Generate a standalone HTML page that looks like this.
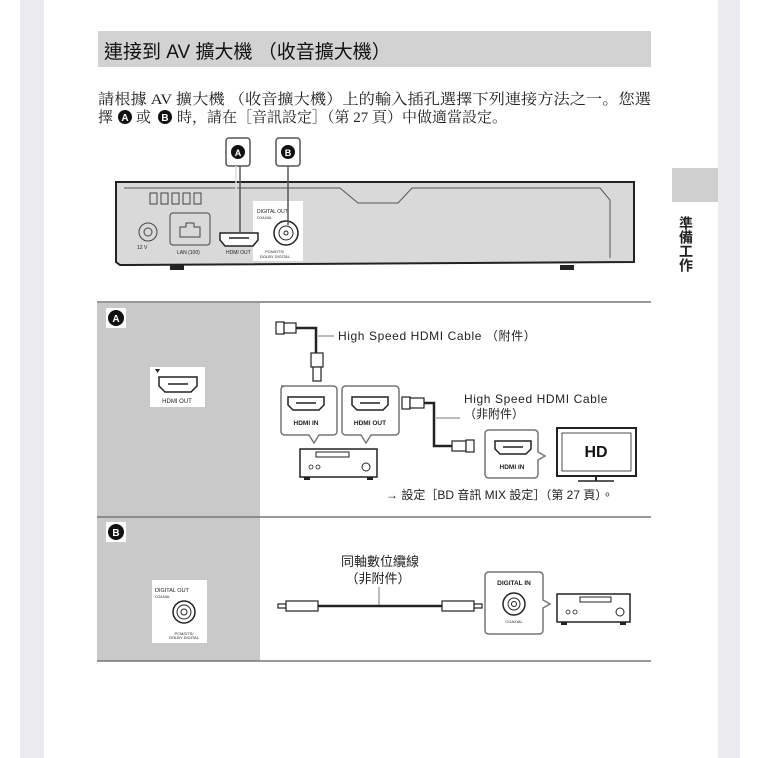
<!DOCTYPE html>
<html><head><meta charset="utf-8"><style>
html,body{margin:0;padding:0;background:#fff;}
svg{display:block}
.t{font-family:"Liberation Sans","Noto Sans CJK TC",sans-serif;}
.s{font-family:"Liberation Serif","Noto Serif CJK SC",serif;}
</style></head><body>
<svg width="758" height="758" viewBox="0 0 758 758" xmlns="http://www.w3.org/2000/svg">
<rect width="758" height="758" fill="#fff"/>
<rect x="20" y="0" width="24" height="758" fill="#ececf0"/>
<rect x="718" y="0" width="22" height="758" fill="#ececf0"/>
<!-- title -->
<rect x="98" y="31" width="553" height="36" fill="#d2d2d2"/>
<text x="104" y="58" class="t" font-size="19" fill="#111">連接到 AV 擴大機 （收音擴大機）</text>
<text x="98" y="104" class="s" font-size="15" fill="#222" textLength="553" lengthAdjust="spacingAndGlyphs">請根據 AV 擴大機 （收音擴大機）上的輸入插孔選擇下列連接方法之一。您選</text>
<text x="98" y="122" class="s" font-size="15" fill="#222">擇</text>
<circle cx="125" cy="117" r="7" fill="#111"/><text x="125" y="121" font-size="10" font-weight="bold" fill="#fff" text-anchor="middle" class="t">A</text>
<text x="136" y="122" class="s" font-size="15" fill="#222">或</text>
<circle cx="165" cy="117" r="7" fill="#111"/><text x="165" y="121" font-size="10" font-weight="bold" fill="#fff" text-anchor="middle" class="t">B</text>
<text x="177" y="122" class="s" font-size="15" fill="#222">時，請在［音訊設定］（第 27 頁）中做適當設定。</text>
<!-- side tab -->
<rect x="672" y="168" width="46" height="34" fill="#cfcfcf"/>
<text x="686" y="216" class="t" font-size="14" font-weight="bold" fill="#222" writing-mode="tb">準備工作</text>
<!-- badges -->
<g stroke="#555" fill="#fff" stroke-width="1.5">
<rect x="226" y="138" width="24" height="28" rx="3"/><rect x="276" y="138" width="24" height="28" rx="3"/>
</g>
<circle cx="238" cy="152" r="7" fill="#111"/><text x="238" y="156" font-size="9" font-weight="bold" fill="#fff" text-anchor="middle" class="t">A</text>
<circle cx="288" cy="152" r="7" fill="#111"/><text x="288" y="156" font-size="9" font-weight="bold" fill="#fff" text-anchor="middle" class="t">B</text>
<!-- player -->
<path d="M116 182 L634 182 L634 262 L120 265 L116 262 Z" fill="#d9d9d9" stroke="#222" stroke-width="2"/>
<path d="M124 188 L340 188 L358 203 L398 203 L412 188 L600 188 L610 200 L610 258" fill="none" stroke="#555" stroke-width="1"/>
<rect x="170" y="265" width="14" height="5" fill="#222"/><rect x="560" y="265" width="14" height="5" fill="#222"/>
<g fill="none" stroke="#444" stroke-width="1">
<rect x="150" y="193" width="7" height="11"/><rect x="161" y="193" width="7" height="11"/><rect x="172" y="193" width="7" height="11"/><rect x="183" y="193" width="7" height="11"/><rect x="194" y="193" width="7" height="11"/>
<circle cx="148" cy="232" r="9"/><circle cx="148" cy="232" r="4"/>
<rect x="170" y="213" width="40" height="32" rx="3"/>
<path d="M180 237 v-10 h6 v-4 h8 v4 h6 v10 z"/>
</g>
<rect x="253" y="201" width="50" height="60" fill="#fff"/>
<text x="137" y="249" font-size="5" class="t" fill="#222">12 V</text>
<text x="177" y="254" font-size="5" class="t" fill="#222">LAN (100)</text>
<text x="226" y="254" font-size="5" class="t" fill="#222">HDMI OUT</text>
<text x="257" y="213" font-size="5" class="t" fill="#222">DIGITAL OUT</text>
<text x="257" y="219" font-size="3.5" class="t" fill="#222">COAXIAL</text>
<text x="265" y="253" font-size="4" class="t" fill="#222">PCM/DTS/</text>
<text x="260" y="258" font-size="4" class="t" fill="#222">DOLBY DIGITAL</text>
<path d="M220 233 h38 v7 l-5 6 h-28 l-5 -6 z" fill="#fff" stroke="#222" stroke-width="1.5"/>
<line x1="229" y1="238" x2="249" y2="238" stroke="#222" stroke-width="1.5"/>
<circle cx="286" cy="233" r="12" fill="#fff" stroke="#222" stroke-width="1.5"/><circle cx="286" cy="233" r="7" fill="none" stroke="#222"/><circle cx="286" cy="233" r="2" fill="none" stroke="#222"/>
<g stroke="#555" stroke-width="1.5"><line x1="240" y1="166" x2="240" y2="232"/><line x1="236" y1="166" x2="236" y2="232" stroke="#ddd"/><line x1="288" y1="166" x2="288" y2="225"/></g>
<!-- sections -->
<rect x="97" y="303" width="163" height="358" fill="#c9c9c9"/>
<g stroke="#777" stroke-width="1.5"><line x1="97" y1="302" x2="651" y2="302"/><line x1="97" y1="517" x2="651" y2="517"/><line x1="97" y1="661" x2="651" y2="661"/></g>
<rect x="106" y="308" width="20" height="20" fill="#fff"/><circle cx="116" cy="318" r="8" fill="#111"/><text x="116" y="322" font-size="10" font-weight="bold" fill="#fff" text-anchor="middle" class="t">A</text>
<rect x="106" y="522" width="20" height="20" fill="#fff"/><circle cx="116" cy="532" r="8" fill="#111"/><text x="116" y="536" font-size="10" font-weight="bold" fill="#fff" text-anchor="middle" class="t">B</text>
<!-- A left icon -->
<rect x="150" y="367" width="55" height="40" fill="#fff"/>
<path d="M159 377 h38 v9 l-6 6 h-26 l-6 -6 z" fill="#fff" stroke="#222" stroke-width="1.5"/><line x1="168" y1="384" x2="188" y2="384" stroke="#222" stroke-width="1.5"/>
<text x="177" y="403" font-size="6" class="t" text-anchor="middle" fill="#222">HDMI OUT</text>
<path d="M155 369 h5 l-2.5 4 z" fill="#222"/>
<!-- A cable 1 -->
<g fill="#fff" stroke="#222" stroke-width="1.2">
<rect x="276" y="322" width="8" height="12"/><rect x="284" y="323" width="12" height="10"/>
<rect x="311" y="353" width="12" height="14"/><rect x="313" y="367" width="8" height="14"/>
</g>
<path d="M296 328 h20 v25" fill="none" stroke="#222" stroke-width="2.5"/>
<line x1="318" y1="336" x2="334" y2="336" stroke="#777"/>
<text x="338" y="340" font-size="12" class="t" fill="#222" letter-spacing="0.6">High Speed HDMI Cable （附件）</text>
<!-- receiver bubbles -->
<g fill="#fff" stroke="#777" stroke-width="1.5">
<path d="M281 386 h52 q4 0 4 4 v41 q0 4 -4 4 h-14 l-5 8 l-5 -8 h-24 q-4 0 -4 -4 v-41 q0 -4 4 -4z"/>
<path d="M346 386 h49 q4 0 4 4 v41 q0 4 -4 4 h-24 l-5 8 l-5 -8 h-15 q-4 0 -4 -4 v-41 q0 -4 4 -4z"/>
<path d="M489 430 h45 q4 0 4 4 v18 l7 4 l-7 4 v14 q0 4 -4 4 h-45 q-4 0 -4 -4 v-40 q0 -4 4 -4z"/>
</g>
<g fill="#fff" stroke="#222" stroke-width="1.5">
<path d="M288 397 h36 v8 l-5 5 h-26 l-5 -5z"/><path d="M352 397 h36 v8 l-5 5 h-26 l-5 -5z"/><path d="M495 441 h36 v8 l-5 5 h-26 l-5 -5z"/>
</g>
<g stroke="#222" stroke-width="1.5"><line x1="296" y1="403" x2="316" y2="403"/><line x1="360" y1="403" x2="380" y2="403"/><line x1="503" y1="447" x2="523" y2="447"/></g>
<text x="306" y="425" font-size="6.5" font-weight="bold" class="t" text-anchor="middle" fill="#222">HDMI IN</text>
<text x="370" y="425" font-size="6.5" font-weight="bold" class="t" text-anchor="middle" fill="#222">HDMI OUT</text>
<text x="512" y="469" font-size="6.5" font-weight="bold" class="t" text-anchor="middle" fill="#222">HDMI IN</text>
<!-- receiver A -->
<rect x="300" y="449" width="77" height="28" fill="#fff" stroke="#222" stroke-width="1.5"/>
<rect x="316" y="452" width="33" height="5" fill="none" stroke="#222"/>
<circle cx="311" cy="467" r="2" fill="none" stroke="#222" stroke-width=".8"/><circle cx="318" cy="467" r="2" fill="none" stroke="#222" stroke-width=".8"/><circle cx="366" cy="467" r="4" fill="none" stroke="#222"/>
<rect x="304" y="477" width="6" height="3" fill="#222"/><rect x="367" y="477" width="6" height="3" fill="#222"/>
<!-- cable 2 -->
<g fill="#fff" stroke="#222" stroke-width="1.2">
<rect x="402" y="397" width="8" height="12"/><rect x="410" y="398" width="14" height="10"/>
<rect x="452" y="441" width="14" height="10"/><rect x="466" y="440" width="8" height="12"/>
</g>
<path d="M424 403 h10 v43 h18" fill="none" stroke="#222" stroke-width="2.5"/>
<line x1="436" y1="418" x2="460" y2="418" stroke="#777"/>
<text x="464" y="403" font-size="12" class="t" fill="#222" letter-spacing="0.6">High Speed HDMI Cable</text>
<text x="464" y="418" font-size="12" class="t" fill="#222">（非附件）</text>
<!-- TV -->
<rect x="557" y="428" width="79" height="48" fill="#fff" stroke="#222" stroke-width="2"/>
<rect x="562" y="433" width="69" height="38" fill="#fff" stroke="#222" stroke-width=".8"/>
<text x="596" y="457" font-size="16" font-weight="bold" class="t" text-anchor="middle" fill="#111">HD</text>
<line x1="596" y1="476" x2="596" y2="481" stroke="#222" stroke-width="2"/><line x1="578" y1="481" x2="614" y2="481" stroke="#222" stroke-width="1.5"/>
<text x="386" y="499" font-size="12" class="t" fill="#222">→ 設定［BD 音訊 MIX 設定］（第 27 頁）。</text>
<!-- B left icon -->
<rect x="152" y="580" width="55" height="63" fill="#fff"/>
<text x="155" y="592" font-size="5.5" class="t" fill="#222">DIGITAL OUT</text>
<text x="155" y="598" font-size="3.5" class="t" fill="#222">COAXIAL</text>
<circle cx="184" cy="612" r="11" fill="#fff" stroke="#222" stroke-width="1.5"/><circle cx="184" cy="612" r="7" fill="none" stroke="#222"/><circle cx="184" cy="612" r="3" fill="none" stroke="#222"/>
<text x="184" y="635" font-size="4" class="t" text-anchor="middle" fill="#222">PCM/DTS/</text>
<text x="184" y="639" font-size="4" class="t" text-anchor="middle" fill="#222">DOLBY DIGITAL</text>
<!-- coax -->
<text x="380" y="566" font-size="13" class="t" text-anchor="middle" fill="#222">同軸數位纜線</text>
<text x="378" y="583" font-size="13" class="t" text-anchor="middle" fill="#222">（非附件）</text>
<line x1="379" y1="587" x2="379" y2="606" stroke="#777"/>
<line x1="318" y1="606" x2="442" y2="606" stroke="#222" stroke-width="2.5"/>
<g fill="#fff" stroke="#222" stroke-width="1.2">
<rect x="278" y="604" width="8" height="4"/><rect x="286" y="601" width="32" height="10"/>
<rect x="442" y="601" width="32" height="10"/><rect x="474" y="604" width="8" height="4"/>
</g>
<path d="M489 572 h50 q4 0 4 4 v24 l7 4 l-7 4 v22 q0 4 -4 4 h-50 q-4 0 -4 -4 v-54 q0 -4 4 -4z" fill="#fff" stroke="#777" stroke-width="1.5"/>
<text x="514" y="585" font-size="6.5" font-weight="bold" class="t" text-anchor="middle" fill="#222">DIGITAL IN</text>
<circle cx="514" cy="604" r="11" fill="#fff" stroke="#222" stroke-width="1.5"/><circle cx="514" cy="604" r="6" fill="none" stroke="#222"/><circle cx="514" cy="604" r="2.5" fill="none" stroke="#222"/>
<text x="514" y="623" font-size="4" class="t" text-anchor="middle" fill="#222">COAXIAL</text>
<rect x="557" y="594" width="73" height="28" fill="#fff" stroke="#222" stroke-width="1.5"/>
<rect x="580" y="597" width="31" height="5" fill="none" stroke="#222"/>
<circle cx="568" cy="612" r="2" fill="none" stroke="#222" stroke-width=".8"/><circle cx="575" cy="612" r="2" fill="none" stroke="#222" stroke-width=".8"/><circle cx="620" cy="612" r="4" fill="none" stroke="#222"/>
<rect x="561" y="622" width="6" height="3" fill="#222"/><rect x="620" y="622" width="6" height="3" fill="#222"/>
</svg>
</body></html>
